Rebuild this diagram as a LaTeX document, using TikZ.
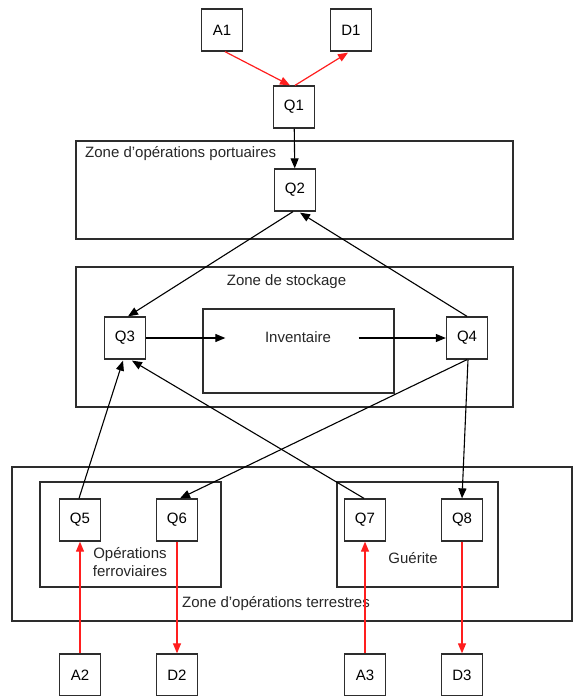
\documentclass[tikz,border=0pt]{standalone}
\usepackage{fontspec}
\setmainfont{Liberation Sans}
\usetikzlibrary{arrows.meta,calc}
\definecolor{flowred}{RGB}{255,30,30}
\definecolor{framegray}{RGB}{45,45,45}
\begin{document}
\begin{tikzpicture}[x=1pt,y=-1pt,
  font=\fontsize{15}{18}\selectfont,
  qbox/.style={draw=framegray,line width=1.3pt,minimum width=41pt,minimum height=42pt,inner sep=0pt},
  zone/.style={draw=framegray,line width=1.3pt,inner sep=0pt},
  flow/.style={draw=black,line width=1.1pt,-{Triangle[length=10pt,width=8pt]}},
  redflow/.style={draw=flowred,line width=1.2pt,-{Triangle[length=10pt,width=8pt]}},
  lbl/.style={inner sep=0pt,text=black!85}]
\useasboundingbox (0,0) rectangle (573,696);

% zones
\node[zone,minimum width=437pt,minimum height=98pt] (port) at (294.5,190) {};
\node[zone,minimum width=437pt,minimum height=140pt] (store) at (294.5,337) {};
\node[zone,minimum width=191pt,minimum height=84pt] (inv) at (298.5,351) {};
\node[zone,minimum width=560pt,minimum height=154pt] (land) at (292,544) {};
\node[zone,minimum width=181pt,minimum height=105pt] (rail) at (130.5,534.5) {};
\node[zone,minimum width=161pt,minimum height=105pt] (gate) at (417.5,534.5) {};

% zone labels
\node[lbl,anchor=west] (portlbl) at (85,154) {Zone d'opérations portuaires};
\node[lbl] (storelbl) at (286.5,282) {Zone de stockage};
\node[lbl] (invlbl) at (298,337) {Inventaire};
\node[lbl,anchor=west] (landlbl) at (182,604) {Zone d'opérations terrestres};
\node[lbl,align=center] (raillbl) at (130,562) {Opérations\\ferroviaires};
\node[lbl] (gatelbl) at (413,558) {Guérite};

% queues and sources/sinks
\node[qbox] (A1) at (222,30) {A1};
\node[qbox] (D1) at (351,30) {D1};
\node[qbox] (Q1) at (294,107) {Q1};
\node[qbox] (Q2) at (295,190) {Q2};
\node[qbox] (Q3) at (125,338) {Q3};
\node[qbox] (Q4) at (467,338) {Q4};
\node[qbox] (Q5) at (80,520) {Q5};
\node[qbox] (Q6) at (177,520) {Q6};
\node[qbox] (Q7) at (365,520) {Q7};
\node[qbox] (Q8) at (462,520) {Q8};
\node[qbox] (A2) at (80,675) {A2};
\node[qbox] (D2) at (177,675) {D2};
\node[qbox] (A3) at (365,675) {A3};
\node[qbox] (D3) at (462,675) {D3};

% points on the inventory line
\coordinate (invin) at ($(Q3.east -| inv.west)+(23,0)$);
\coordinate (invout) at ($(Q4.west -| inv.east)+(-36,0)$);

% red flows
\draw[redflow] ($(A1.south)+(3,0)$) -- ($(Q1.north)+(-4,0)$);
\draw[redflow] ($(Q1.north)+(1,0)$) -- ($(D1.south)+(-3,1)$);
\draw[redflow] (A2) -- (Q5);
\draw[redflow] (Q6) -- (D2);
\draw[redflow] (A3) -- (Q7);
\draw[redflow] (Q8) -- (D3);

% black flows
\draw[flow] (Q1) -- (Q2);
\draw[flow] ($(Q2.south)+(-2,0)$) -- ($(Q3.north)+(3,0)$);
\draw[flow] (Q4.north) -- ($(Q2.south)+(5,1)$);
\draw[flow] (Q3.east) -- (invin);
\draw[flow] (invout) -- (Q4.west);
\draw[flow] ($(Q5.north)+(-1,0)$) -- ($(Q3.south)+(-2,1)$);
\draw[flow] ($(Q7.north)+(-1,0)$) -- ($(Q3.south)+(7,1)$);
\draw[flow] (Q4.south) -- ($(Q6.north)+(3,0)$);
\draw[flow] ($(Q4.south)+(1,0)$) -- (Q8.north);
\end{tikzpicture}
\end{document}
